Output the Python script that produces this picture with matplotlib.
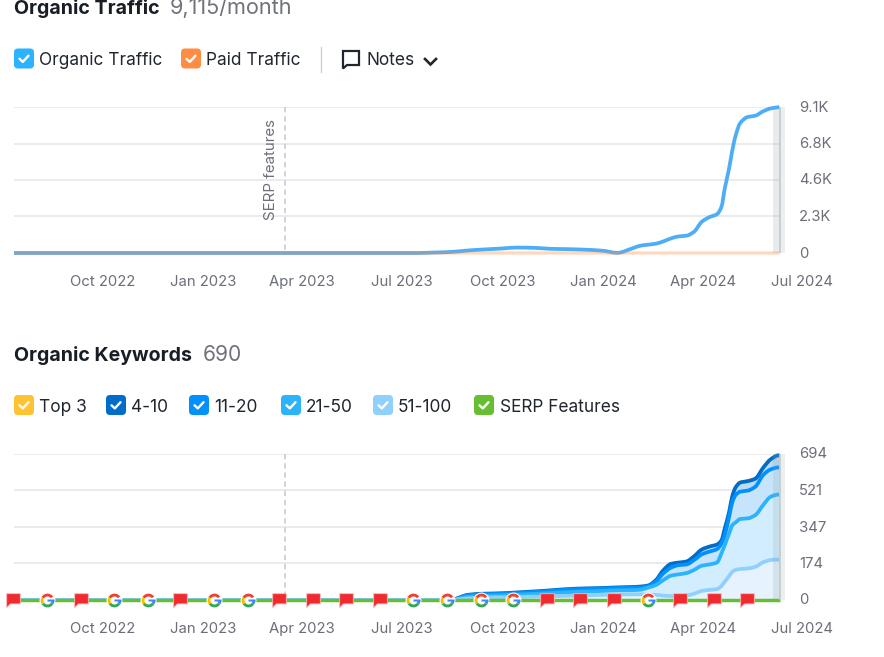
import numpy as np
import pandas as pd
import matplotlib
matplotlib.use('Agg')
import matplotlib.pyplot as plt
import matplotlib.dates as mdates
from matplotlib.patches import FancyBboxPatch, PathPatch
from matplotlib.path import Path
from matplotlib.transforms import ScaledTranslation

plt.rcParams['font.family'] = ['Inter', 'DejaVu Sans']

# shared time axis of both charts
dates = pd.to_datetime([
    '2022-07-13', '2023-07-15', '2023-08-01', '2023-08-15', '2023-09-01', '2023-09-15', '2023-10-01',
    '2023-10-15', '2023-11-01', '2023-11-15', '2023-12-01', '2023-12-15', '2024-01-01', '2024-01-15',
    '2024-01-29', '2024-02-05', '2024-02-12', '2024-02-19', '2024-02-26', '2024-03-04', '2024-03-11',
    '2024-03-18', '2024-03-25', '2024-04-01', '2024-04-08', '2024-04-15', '2024-04-19', '2024-04-22',
    '2024-04-26', '2024-04-29', '2024-05-02', '2024-05-06', '2024-05-13', '2024-05-20', '2024-05-27',
    '2024-06-03', '2024-06-10', '2024-06-11'])

organic_traffic = [0, 0, 30, 60, 160, 220, 280, 340, 320, 260, 240, 210, 145, 10, 300, 457, 519, 581, 727,
                   913, 1038, 1080, 1329, 1950, 2240, 2430, 2886, 4027, 5300, 6450, 7350, 8100, 8490, 8574,
                   8844, 9031, 9100, 9115]
paid_traffic = [0] * len(dates)

kw_51_100 = [0, 0, 0, 0, 8, 12, 13, 15, 16, 18, 20, 22, 24, 26, 27, 27, 25, 24, 21, 19, 19, 21, 30, 43, 48,
             52, 67, 87, 114, 135, 143, 147, 150, 158, 179, 190, 192, 192]
kw_21_50 = [0, 0, 0, 0, 8, 8, 10, 11, 13, 15, 17, 18, 19, 20, 20, 22, 34, 47, 74, 97, 103, 107, 113, 120, 121,
            127, 155, 174, 203, 221, 226, 238, 238, 246, 272, 301, 309, 309]
kw_11_20 = [0, 0, 0, 0, 7, 7, 7, 7, 9, 10, 12, 12, 11, 11, 12, 10, 6, 16, 32, 38, 44, 41, 47, 54, 61, 63, 47,
            48, 79, 111, 130, 130, 132, 135, 143, 130, 129, 129]
kw_4_10 = [0, 0, 0, 0, 2, 3, 2, 3, 3, 3, 3, 3, 3, 3, 3, 5, 4, 7, 15, 18, 12, 14, 18, 23, 24, 22, 15, 31, 23,
           29, 37, 43, 45, 38, 34, 48, 57, 57]
kw_top3 = [0] * 15 + [1] * 14 + [3, 3, 4, 4, 4, 4, 4, 5, 5]

traffic_ticks = [0, 2279, 4558, 6836, 9115]
traffic_labels = ['0', '2.3K', '4.6K', '6.8K', '9.1K']
keyword_ticks = [0, 174, 347, 521, 694]
keyword_labels = ['0', '174', '347', '521', '694']

quarter_dates = pd.to_datetime(['2022-10-01', '2023-01-01', '2023-04-01', '2023-07-01', '2023-10-01',
                                '2024-01-01', '2024-04-01', '2024-07-01'])
quarter_labels = ['Oct 2022', 'Jan 2023', 'Apr 2023', 'Jul 2023', 'Oct 2023', 'Jan 2024', 'Apr 2024', 'Jul 2024']

serp_date = pd.Timestamp('2023-03-17')
note_dates = pd.date_range('2022-07-01', periods=23, freq='MS') + pd.Timedelta(days=11)
note_kinds = list('FGFGGFGGFFFFGGGGFFFGFFF')

W, H = 884, 657
GRID = '#e6e6ec'
TICK = '#6c6e79'
DARK = '#181e25'
GREY = '#70727c'
XNUM = mdates.date2num(dates)


def px_axes(fig, left, top, right, bottom):
    return fig.add_axes([left / W, 1 - bottom / H, (right - left) / W, (bottom - top) / H])


def curve_verts(x, y):
    # bezier pieces through the read values, drawn like a monotone chart line
    x = np.asarray(x, float)
    y = np.asarray(y, float)
    h = np.diff(x)
    s = np.diff(y) / h
    m = np.zeros(len(x))
    for i in range(1, len(x) - 1):
        if s[i - 1] * s[i] > 0:
            w1 = 2 * h[i] + h[i - 1]
            w2 = h[i] + 2 * h[i - 1]
            m[i] = (w1 + w2) / (w1 / s[i - 1] + w2 / s[i])
    m[0], m[-1] = s[0], s[-1]
    verts = [(x[0], y[0])]
    for i in range(len(h)):
        verts.append((x[i] + h[i] / 3, y[i] + m[i] * h[i] / 3))
        verts.append((x[i + 1] - h[i] / 3, y[i + 1] - m[i + 1] * h[i] / 3))
        verts.append((x[i + 1], y[i + 1]))
    return verts


def draw_line(ax, y, col, lw, z, alpha=None):
    v = curve_verts(XNUM, y)
    codes = [Path.MOVETO] + [Path.CURVE4] * (len(v) - 1)
    ax.add_patch(PathPatch(Path(v, codes), fc='none', ec=col, lw=lw, alpha=alpha, clip_on=False, zorder=z,
                           capstyle='butt', joinstyle='round'))


def draw_fill(ax, lower, upper, col, z):
    up = curve_verts(XNUM, upper)
    low = curve_verts(XNUM, lower)[::-1]
    v = up + low + [up[0]]
    codes = ([Path.MOVETO] + [Path.CURVE4] * (len(up) - 1) + [Path.LINETO] + [Path.CURVE4] * (len(low) - 1)
             + [Path.CLOSEPOLY])
    ax.add_patch(PathPatch(Path(v, codes), fc=col, ec='none', lw=0, zorder=z))


def setup_chart(ax, ticks, labels):
    ax.set_xlim(mdates.date2num(pd.Timestamp('2022-07-13')), mdates.date2num(pd.Timestamp('2024-06-16')))
    ax.set_ylim(ticks[0], ticks[-1])
    for s in ax.spines.values():
        s.set_visible(False)
    ax.set_xticks([])
    ax.yaxis.tick_right()
    ax.set_yticks(ticks)
    ax.set_yticklabels(labels)
    ax.tick_params(axis='y', length=0, pad=10.2, labelsize=10.7, labelcolor=TICK)
    up = ScaledTranslation(0, 1 / 100, fig.dpi_scale_trans)
    for lab in ax.get_yticklabels():
        lab.set_transform(lab.get_transform() + up)
    ax.hlines(ticks[1:], XNUM[0], XNUM[-1], color=GRID, lw=1.2, zorder=1)
    sx = mdates.date2num(serp_date)
    ax.plot([sx, sx], [ticks[-1], ticks[0]], color='#c6c7cc', lw=1.1, ls=(0, (3.5, 2.5)), zorder=1)
    for d, lab in zip(quarter_dates, quarter_labels):
        ax.text(mdates.date2num(d) + 0.9, -0.196, lab, transform=ax.get_xaxis_transform(), ha='center', va='center',
                fontsize=10.7, color=TICK, clip_on=False)


def add_band(ax):
    last = XNUM[-1]
    ax.axvspan(last - 6.4, last, color='#8f9fa3', alpha=0.2, lw=0, zorder=6)
    ax.axvspan(last, last + 6, color='#b5c0c3', alpha=0.25, lw=0, zorder=6)
    ax.axvline(last, color='#c2cacb', lw=1.2, zorder=6)


def ring(t1, t2, outer=1.0, inner=0.58):
    # one coloured piece of the G, the far corner keeps every piece at the same marker scale
    a = Path.arc(t1, t2)
    v = np.vstack([[1.25, 1.25], a.vertices * outer, a.vertices[::-1] * inner, a.vertices[0] * outer])
    c = [Path.MOVETO] + list(a.codes) + [Path.LINETO] + list(a.codes[1:]) + [Path.CLOSEPOLY]
    return Path(v, c)


G_BAR = Path([[1.25, 1.25], [0.05, 0.2], [1.0, 0.2], [1.0, -0.2], [0.05, -0.2], [0.05, 0.2]],
             [Path.MOVETO, Path.MOVETO, Path.LINETO, Path.LINETO, Path.LINETO, Path.CLOSEPOLY])
FLAG = Path([[-1, 1], [1, 1], [1, -0.5], [-0.45, -0.5], [-1, -1.05], [-1, 1]],
            [Path.MOVETO, Path.LINETO, Path.LINETO, Path.LINETO, Path.LINETO, Path.CLOSEPOLY])


def add_notes(ax):
    flags = [mdates.date2num(d) for d, k in zip(note_dates, note_kinds) if k == 'F']
    gs = [mdates.date2num(d) for d, k in zip(note_dates, note_kinds) if k == 'G']
    ax.plot(flags, [0] * len(flags), ls='', marker=FLAG, ms=10.3, mfc='#f02b2f', mec='#f9b9b9', mew=0.6,
            clip_on=False, zorder=9)
    ax.plot(gs, [0] * len(gs), ls='', marker='o', ms=11.5, mfc='white', mec='none', clip_on=False, zorder=9)
    pieces = [(ring(35, 150), '#ea4335'), (ring(150, 215), '#fbbc05'), (ring(215, 325), '#34a853'),
              (ring(325, 360), '#4285f4'), (G_BAR, '#4285f4')]
    for path, col in pieces:
        ax.plot(gs, [0] * len(gs), ls='', marker=path, ms=12.4, mfc=col, mec='none', clip_on=False, zorder=10)


fig = plt.figure(figsize=(W / 100, H / 100), dpi=100)

# Organic Traffic chart
ax1 = px_axes(fig, 14, 107, 785, 253)
setup_chart(ax1, traffic_ticks, traffic_labels)
draw_line(ax1, organic_traffic, '#4dadf7', 2.7, 3)
draw_line(ax1, paid_traffic, '#ff8c43', 2.3, 4, alpha=0.34)
add_band(ax1)

# Organic Keywords chart, stacked from the bottom
ax2 = px_axes(fig, 14, 454, 785, 600)
setup_chart(ax2, keyword_ticks, keyword_labels)
layers = [kw_51_100, kw_21_50, kw_11_20, kw_4_10, kw_top3]
stacked = np.cumsum(np.array(layers), axis=0)
line_cols = ['#8fd0ff', '#2bb3ff', '#0091ff', '#006dca', '#ffc233']
fill_cols = ['#e6f3fe', '#d2eefe', '#c6e5fd', '#bcdcf6', '#ffe9b5']
base = np.zeros(len(dates))
for top, fc in zip(stacked, fill_cols):
    draw_fill(ax2, base, top, fc, 2)
    base = top
for i in [4, 3, 2, 1, 0]:
    draw_line(ax2, stacked[i], line_cols[i], 2.7 if i != 4 else 1.6, 3 + (4 - i) * 0.1)
ax2.plot(XNUM, [0] * len(dates), color='#66bf33', lw=2.5, clip_on=False, zorder=5, solid_capstyle='butt')
add_band(ax2)
add_notes(ax2)

# titles, legends and icons sit on a pixel overlay
ov = fig.add_axes([0, 0, 1, 1], zorder=20)
ov.set_xlim(0, W)
ov.set_ylim(H, 0)
ov.axis('off')


def checkbox(x, y, w, h, col):
    r = 4
    ov.add_patch(FancyBboxPatch((x + r, y + r), w - 2 * r, h - 2 * r, boxstyle=f'round,pad={r},rounding_size={r}',
                                fc=col, ec='none'))
    cx, cy = x + w / 2, y + h / 2
    ov.plot([cx - 4.5, cx - 1.2, cx + 4.5], [cy + 0.3, cy + 3.4, cy - 2.8], color='white', lw=1.7,
            solid_capstyle='round', solid_joinstyle='round')


def legend_item(x_box, x_text, y, w, h, col, label):
    checkbox(x_box, y - h / 2, w, h, col)
    ov.text(x_text, y, label, fontsize=12.45, color='#20262e', va='center_baseline', ha='left')


ov.text(14, 14, 'Organic Traffic', fontsize=14.1, fontweight='bold', color=DARK, va='baseline')
ov.text(170, 14, '9,115/month', fontsize=15.6, color=GREY, va='baseline')
legend_item(14, 39, 58.5, 20, 20, '#2bb3ff', 'Organic Traffic')
legend_item(181, 206, 58.5, 20, 20, '#ff8c43', 'Paid Traffic')
ov.plot([320.5, 320.5], [47, 72], color='#c9ccd0', lw=0.9)
bubble = Path([[343, 51], [359, 51], [359, 65], [347, 65], [343, 68.5], [343, 51]],
              [Path.MOVETO, Path.LINETO, Path.LINETO, Path.LINETO, Path.LINETO, Path.CLOSEPOLY])
ov.add_patch(PathPatch(bubble, fc='none', ec='#20262e', lw=1.6))
ov.text(366, 58.5, 'Notes', fontsize=12.45, color='#20262e', va='center_baseline')
ov.plot([425, 430.5, 436], [59, 64.5, 59], color='#20262e', lw=1.9, solid_joinstyle='miter')

ov.text(14, 361, 'Organic Keywords', fontsize=14.1, fontweight='bold', color=DARK, va='baseline')
ov.text(203, 361, '690', fontsize=15.2, color=GREY, va='baseline')
legend_item(14, 39, 405, 20, 20, '#ffc233', 'Top 3')
legend_item(106, 131, 405, 20, 20, '#006dca', '4-10')
legend_item(189, 214, 405, 20, 20, '#0091ff', '11-20')
legend_item(281, 306, 405, 20, 20, '#2bb3ff', '21-50')
legend_item(373, 398, 405, 20, 20, '#8fd0ff', '51-100')
legend_item(474, 500, 405, 20, 20, '#66bf33', 'SERP Features')

ov.text(271, 220, 'SERP features', rotation=90, fontsize=10.8, color=TICK, ha='center', va='bottom')

fig.savefig('out.png', dpi=100)
